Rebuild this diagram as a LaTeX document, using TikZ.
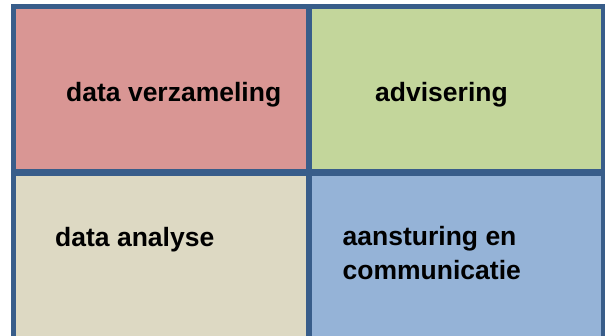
\documentclass[tikz,border=0pt]{standalone}
\usepackage{fontspec}
\setmainfont{Liberation Sans}
\definecolor{framec}{HTML}{385D8A}
\definecolor{pinkc}{HTML}{D99694}
\definecolor{greenc}{HTML}{C3D69B}
\definecolor{beigec}{HTML}{DDD9C3}
\definecolor{bluec}{HTML}{95B3D7}
\begin{document}
\begin{tikzpicture}[x=1pt,y=1pt,
  cell/.style={rectangle,inner sep=0pt,outer sep=0pt,draw=none,anchor=south west},
  lbl/.style={anchor=base west,inner sep=0pt,font=\fontsize{26.5}{34}\selectfont\bfseries,text=black,align=left},
  bar/.style={fill=framec,draw=none}]
\useasboundingbox (0,0) rectangle (605,336);
\fill[white] (0,0) rectangle (605,336);
% frame background
\fill[framec] (11,0) rectangle (610,332);
% cells (image y measured from top; tikz y = 336 - y)
\node[cell,fill=pinkc,minimum width=290,minimum height=160] (c1) at (16,167) {};
\node[cell,fill=greenc,minimum width=289,minimum height=160] (c2) at (312,167) {};
\node[cell,fill=beigec,minimum width=290,minimum height=160] (c3) at (16,0) {};
\node[cell,fill=bluec,minimum width=289,minimum height=160] (c4) at (312,0) {};
% labels
\node[lbl] (t1) at (66,234.3) {data verzameling};
\node[lbl] (t2) at (375,234.3) {advisering};
\node[lbl] (t3) at (55,89.3) {data analyse};
\node[lbl] (t4) at (342.5,90) {aansturing en};
\node[lbl] (t5) at (342.5,56) {communicatie};
\end{tikzpicture}
\end{document}
